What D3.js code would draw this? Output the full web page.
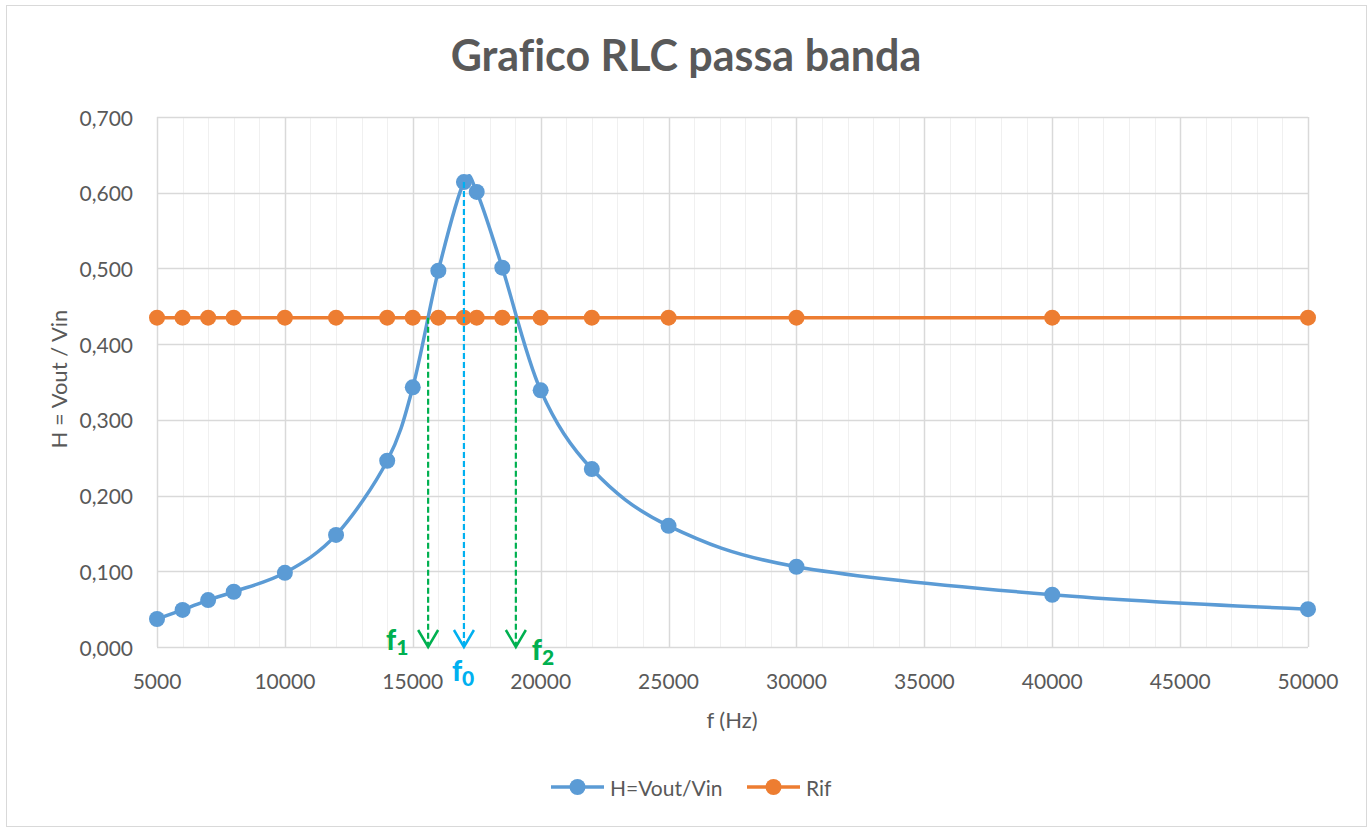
<html>
<head>
<script src="https://d3js.org/d3.v7.min.js"></script>
<style>
  body { margin: 0; background: white; }
  text { font-family: Lato, 'Open Sans', sans-serif; fill: #595959; font-variant-ligatures: none; }
</style>
</head>
<body>
<svg width="1370" height="831"></svg>
<script>
// data
const freq = [5000, 6000, 7000, 8000, 10000, 12000, 14000, 15000, 16000, 17000, 17500, 18500, 20000, 22000, 25000, 30000, 40000, 50000];
const hVals = [0.037, 0.049, 0.062, 0.073, 0.098, 0.148, 0.246, 0.343, 0.497, 0.614, 0.601, 0.501, 0.339, 0.235, 0.160, 0.106, 0.069, 0.050];
const rifVals = [0.435, 0.435, 0.435, 0.435, 0.435, 0.435, 0.435, 0.435, 0.435, 0.435, 0.435, 0.435, 0.435, 0.435, 0.435, 0.435, 0.435, 0.435];
const xTicks = [5000, 10000, 15000, 20000, 25000, 30000, 35000, 40000, 45000, 50000];
const yTicks = [0, 0.1, 0.2, 0.3, 0.4, 0.5, 0.6, 0.7];
// cut-off / resonance frequencies marked by arrows
const markFreq = [15600, 17000, 19030];
const markName = ["1", "0", "2"];

const blue = "#5B9BD5", orange = "#ED7D31";
const green = "#00B050", cyan = "#00B0F0";

const svg = d3.select("svg");

// outer chart border
svg.append("rect")
  .attr("x", 6.5).attr("y", 5.5).attr("width", 1360).attr("height", 821)
  .attr("fill", "white").attr("stroke", "#D9D9D9").attr("stroke-width", 1);

const x = d3.scaleLinear().domain([5000, 50000]).range([157, 1308]);
const y = d3.scaleLinear().domain([0, 0.7]).range([647, 117]);

// minor vertical gridlines every 1000 Hz
svg.append("g")
  .selectAll("line")
  .data(d3.range(5000, 50001, 1000).filter(d => d % 5000 != 0))
  .enter()
  .append("line")
  .attr("x1", d => Math.round(x(d)) + 0.5).attr("x2", d => Math.round(x(d)) + 0.5)
  .attr("y1", y(0.7)).attr("y2", y(0))
  .attr("stroke", "#F0F0F0").attr("stroke-width", 1);

// major gridlines
svg.append("g")
  .selectAll("line")
  .data(xTicks)
  .enter()
  .append("line")
  .attr("x1", d => Math.round(x(d)) + 0.5).attr("x2", d => Math.round(x(d)) + 0.5)
  .attr("y1", y(0.7)).attr("y2", y(0))
  .attr("stroke", "#D9D9D9").attr("stroke-width", 1.5);

svg.append("g")
  .selectAll("line")
  .data(yTicks)
  .enter()
  .append("line")
  .attr("x1", x(5000)).attr("x2", x(50000))
  .attr("y1", d => Math.round(y(d)) + 0.5).attr("y2", d => Math.round(y(d)) + 0.5)
  .attr("stroke", "#D9D9D9").attr("stroke-width", 1.5);

// tick labels
const fmtY = d => d3.format(".3f")(d).replace(".", ",");
svg.append("g")
  .selectAll("text")
  .data(yTicks)
  .enter()
  .append("text")
  .attr("x", 133)
  .attr("y", d => y(d))
  .attr("text-anchor", "end")
  .attr("dominant-baseline", "central")
  .style("font-size", "21px")
  .text(fmtY);

svg.append("g")
  .selectAll("text")
  .data(xTicks)
  .enter()
  .append("text")
  .attr("x", d => x(d))
  .attr("y", 680)
  .attr("text-anchor", "middle")
  .attr("dominant-baseline", "central")
  .style("font-size", "21px")
  .text(d => d);

// axis titles
svg.append("text")
  .attr("x", 732).attr("y", 719)
  .attr("text-anchor", "middle")
  .attr("dominant-baseline", "central")
  .style("font-size", "22px")
  .text("f (Hz)");

svg.append("text")
  .attr("transform", "translate(58,379) rotate(-90)")
  .attr("text-anchor", "middle")
  .attr("dominant-baseline", "central")
  .style("font-size", "22px")
  .text("H = Vout / Vin");

// title
svg.append("text")
  .attr("x", 686).attr("y", 71)
  .attr("text-anchor", "middle")
  .style("font-size", "43px")
  .style("font-weight", "bold")
  .text("Grafico RLC passa banda");

// series
const hData = freq.map((f, i) => [f, hVals[i]]);
const rifData = freq.map((f, i) => [f, rifVals[i]]);

const smooth = d3.line().x(d => x(d[0])).y(d => y(d[1])).curve(d3.curveCatmullRom.alpha(0));
const straight = d3.line().x(d => x(d[0])).y(d => y(d[1]));

svg.append("path")
  .attr("d", straight(rifData))
  .attr("fill", "none").attr("stroke", orange).attr("stroke-width", 3.5);

svg.append("g")
  .selectAll("circle")
  .data(rifData)
  .enter()
  .append("circle")
  .attr("cx", d => x(d[0])).attr("cy", d => y(d[1]))
  .attr("r", 8).attr("fill", orange);

svg.append("path")
  .attr("d", smooth(hData))
  .attr("fill", "none").attr("stroke", blue).attr("stroke-width", 3.5);

svg.append("g")
  .selectAll("circle")
  .data(hData)
  .enter()
  .append("circle")
  .attr("cx", d => x(d[0])).attr("cy", d => y(d[1]))
  .attr("r", 8).attr("fill", blue);

// dashed arrows for f1, f0, f2
const peak = d3.max(hVals);
markFreq.forEach((f, i) => {
  const col = i == 1 ? cyan : green;
  const top = i == 1 ? y(peak) : y(rifVals[0]);
  const px = x(f), tip = y(0);
  svg.append("line")
    .attr("x1", px).attr("x2", px).attr("y1", top).attr("y2", tip - 2)
    .attr("stroke", col).attr("stroke-width", 2.2)
    .attr("stroke-dasharray", "6,3");
  svg.append("path")
    .attr("d", `M${px - 10},${tip - 17} L${px},${tip} L${px + 10},${tip - 17}`)
    .attr("fill", "none").attr("stroke", col).attr("stroke-width", 2.5);
});

// labels f1, f0, f2
const labelPos = [[x(markFreq[0]) - 42, 650], [x(markFreq[1]) - 12, 681], [x(markFreq[2]) + 16, 660]];
markFreq.forEach((f, i) => {
  const col = i == 1 ? cyan : green;
  const t = svg.append("text")
    .attr("x", labelPos[i][0]).attr("y", labelPos[i][1])
    .style("font-size", "28px").style("font-weight", "900")
    .style("fill", col);
  t.append("tspan").text("f");
  t.append("tspan").attr("dy", 5).style("font-size", "21px").text(markName[i]);
});

// legend
const legend = [["H=Vout/Vin", blue, 551], ["Rif", orange, 747]];
legend.forEach(l => {
  const g = svg.append("g").attr("transform", `translate(${l[2]},787)`);
  g.append("line").attr("x1", 0).attr("x2", 53).attr("y1", 0).attr("y2", 0)
    .attr("stroke", l[1]).attr("stroke-width", 3.5);
  g.append("circle").attr("cx", 26.5).attr("cy", 0).attr("r", 8).attr("fill", l[1]);
  g.append("text").attr("x", 59).attr("y", 0)
    .attr("dominant-baseline", "central")
    .style("font-size", "21px")
    .text(l[0]);
});
</script>
</body>
</html>
